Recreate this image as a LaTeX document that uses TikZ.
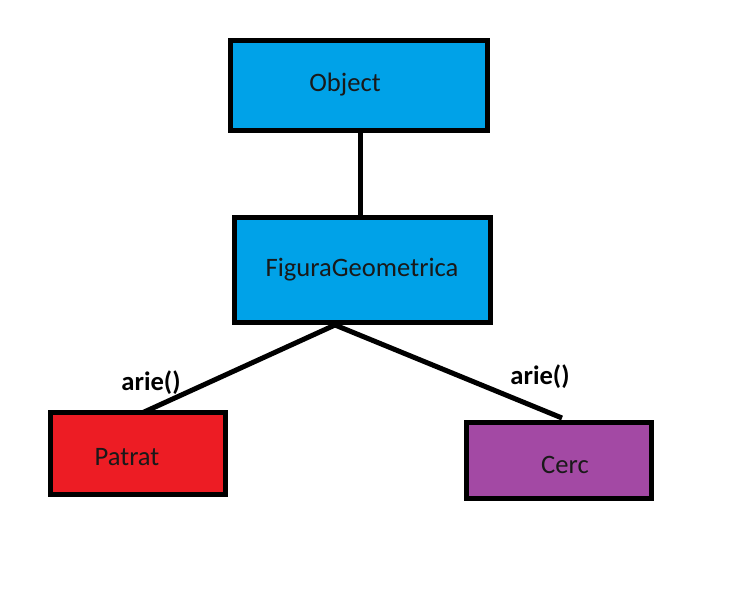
\documentclass[tikz,border=0pt]{standalone}
\usepackage{fontspec}
\setmainfont{Carlito}
\usetikzlibrary{calc}
\definecolor{pblue}{HTML}{00A2E8}
\definecolor{pred}{HTML}{ED1C24}
\definecolor{ppurple}{HTML}{A349A4}
\tikzset{
  box/.style={draw=black, line width=5pt, minimum width=#1, inner sep=0pt},
  lbl/.style={font=\fontsize{26.6}{32}\selectfont, text=black!90, inner sep=0pt},
  blbl/.style={font=\fontsize{26.6}{32}\selectfont\bfseries, text=black, inner sep=0pt},
  conn/.style={draw=black, line width=5pt}
}
\begin{document}
\begin{tikzpicture}[x=1pt,y=-1pt]
\useasboundingbox (0,0) rectangle (730,589);
\node[box=257pt, minimum height=90pt, fill=pblue] (obj) at (359,85.5) {};
\node[box=256pt, minimum height=105pt, fill=pblue] (fg) at (362.5,270) {};
\node[box=175pt, minimum height=82pt, fill=pred] (pat) at (137.5,453) {};
\node[box=185pt, minimum height=76pt, fill=ppurple] (cer) at (559,460.5) {};
\node[lbl] (tobj) at (345,85) {Object};
\node[lbl] (tfg) at (362,270) {FiguraGeometrica};
\node[lbl] (tpat) at (127,457) {Patrat};
\node[lbl] (tcer) at (565,465) {Cerc};
\coordinate (fgb) at ($(fg.south)+(-27.5,0)$);
\coordinate (patt) at ($(pat.north)+(5.5,3)$);
\coordinate (cert) at ($(cer.north)+(3,-2)$);
\draw[conn] ($(obj.south)+(1,0)$) -- ($(fg.north)+(-2.5,0)$);
\draw[conn] (fgb) -- (patt);
\draw[conn] (fgb) -- (cert);
\node[blbl] (l1) at (151,383) {arie()};
\node[blbl] (l2) at (540,377) {arie()};
\end{tikzpicture}
\end{document}
